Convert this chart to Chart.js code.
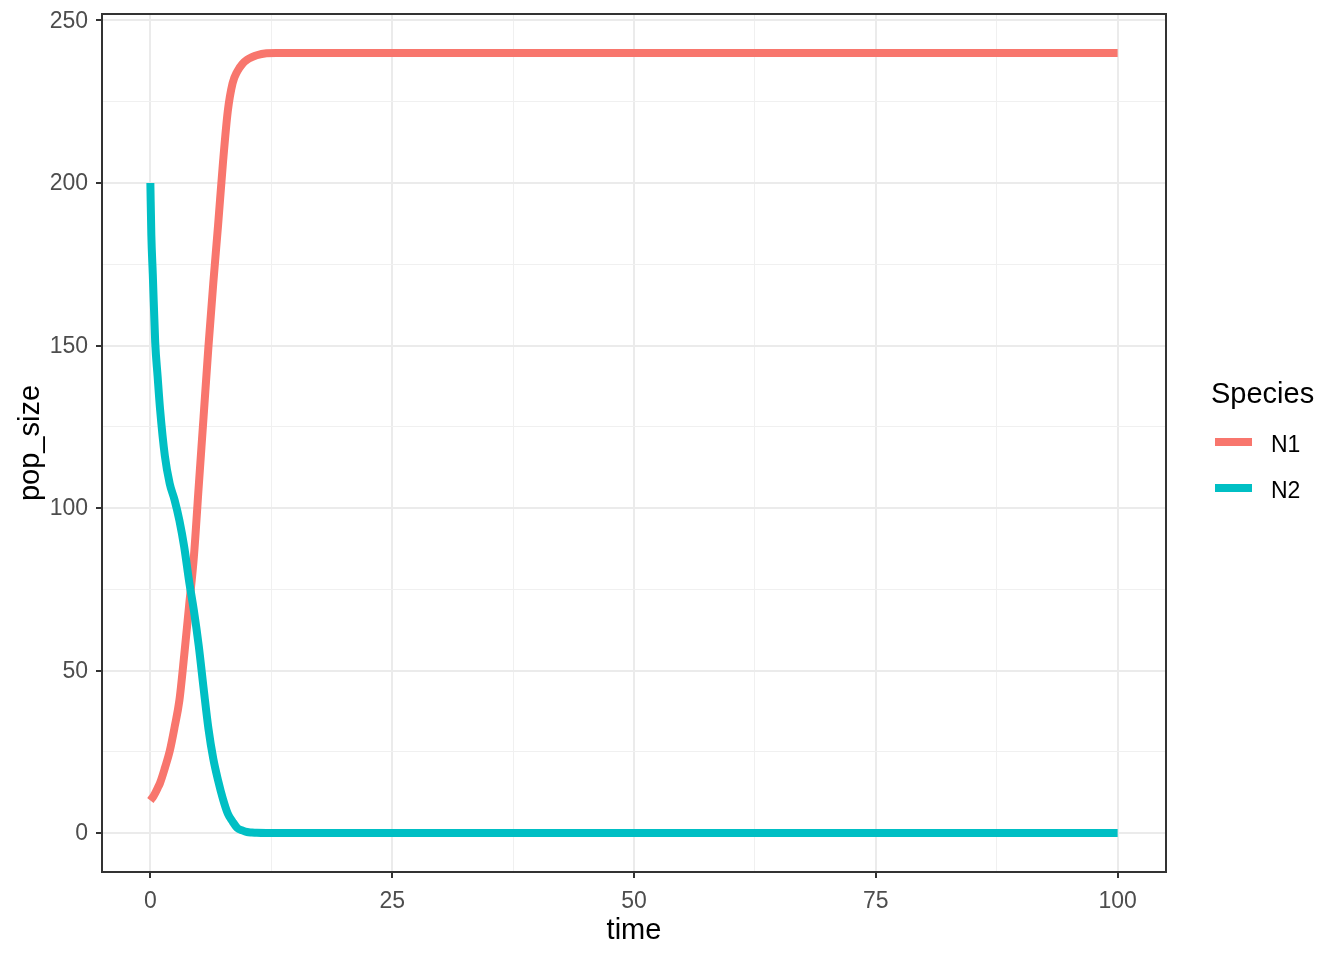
<!DOCTYPE html>
<html>
<head>
<meta charset="utf-8">
<title>pop_size over time</title>
<script src="https://cdn.jsdelivr.net/npm/chart.js@4.4.1/dist/chart.umd.min.js"></script>
<style>
  html, body { margin: 0; padding: 0; background: #ffffff; }
  #wrap { width: 1344px; height: 960px; }
</style>
</head>
<body>
<div id="wrap"><canvas id="chart" width="1344" height="960"></canvas></div>
<script>
// values
const time = [0, 0.1, 0.25, 0.5, 0.75, 1, 1.5, 2, 2.5, 3, 3.5, 4, 4.5, 5, 5.5, 6, 6.5, 7, 7.5, 8, 8.5, 9, 9.5, 10, 10.5, 11, 12, 13, 15, 100];
const n1 = [10, 10.4, 11, 12.3, 13.8, 15.4, 20, 25.2, 32.5, 40.8, 54.7, 69.8, 85, 106.7, 128, 149.5, 169, 187, 206, 222, 230.7, 234.4, 236.6, 237.9, 238.7, 239.3, 239.9, 240, 240, 240];
const n2 = [200, 184, 172, 151, 140.5, 130.5, 116, 107.5, 102.5, 96.2, 88, 77.6, 68.4, 57.6, 44.6, 32.2, 22.9, 16.2, 10.5, 6, 3.5, 1.5, 0.8, 0.3, 0.15, 0.05, 0, 0, 0, 0];
const seriesNames = ['N1', 'N2'];
const seriesColors = ['#F8766D', '#00BFC4'];

const xTicks = [0, 25, 50, 75, 100];
const xMinor = [12.5, 37.5, 62.5, 87.5];
const yTicks = [0, 50, 100, 150, 200, 250];
const yMinor = [25, 75, 125, 175, 225];

const FONT = "'Liberation Sans', Arial, sans-serif";
const GRID = '#EBEBEB';
const INK = '#333333';
const LINE_W = 8;

const toPoints = vals => time.map((t, i) => ({ x: t, y: vals[i] }));

function gridStyle(major) {
  return {
    color: ctx => major.includes(ctx.tick.value) ? GRID : '#F0F0F0',
    lineWidth: ctx => major.includes(ctx.tick.value) ? 2 : 1,
    tickColor: ctx => major.includes(ctx.tick.value) ? INK : 'rgba(0,0,0,0)',
    tickWidth: ctx => major.includes(ctx.tick.value) ? 2 : 0,
    tickLength: 6
  };
}

// panel border on all four sides
const panelBorder = {
  id: 'panelBorder',
  afterDatasetsDraw(chart) {
    const { ctx, chartArea: a } = chart;
    ctx.save();
    ctx.strokeStyle = INK;
    ctx.lineWidth = 2;
    ctx.strokeRect(a.left, a.top, a.right - a.left, a.bottom - a.top);
    ctx.restore();
  }
};

// ggplot-style legend on the right
const sideLegend = {
  id: 'sideLegend',
  afterDraw(chart) {
    const { ctx } = chart;
    ctx.save();
    ctx.fillStyle = '#000000';
    ctx.textBaseline = 'alphabetic';
    ctx.font = `29px ${FONT}`;
    ctx.fillText('Species', 1211, 403);
    ctx.font = `23px ${FONT}`;
    seriesNames.forEach((name, i) => {
      const cy = 442 + i * 46;
      ctx.strokeStyle = seriesColors[i];
      ctx.lineWidth = LINE_W;
      ctx.beginPath();
      ctx.moveTo(1215, cy);
      ctx.lineTo(1252, cy);
      ctx.stroke();
      ctx.fillStyle = '#000000';
      ctx.fillText(name, 1271, cy + 10);
    });
    ctx.restore();
  }
};

new Chart(document.getElementById('chart'), {
  type: 'line',
  data: {
    datasets: [
      { label: seriesNames[0], data: toPoints(n1), borderColor: seriesColors[0], order: 1 },
      { label: seriesNames[1], data: toPoints(n2), borderColor: seriesColors[1], order: 0 }
    ]
  },
  options: {
    responsive: false,
    animation: false,
    layout: { padding: { left: 0, right: 178, top: 14, bottom: 0 } },
    elements: {
      point: { radius: 0 },
      line: { borderWidth: LINE_W, cubicInterpolationMode: 'monotone', borderJoinStyle: 'round' }
    },
    plugins: { legend: { display: false }, tooltip: { enabled: false } },
    scales: {
      x: {
        type: 'linear',
        min: -5,
        max: 105,
        afterBuildTicks: s => { s.ticks = [...xTicks, ...xMinor].sort((a, b) => a - b).map(v => ({ value: v })); },
        afterFit: s => { s.height = 88; s.paddingLeft = 0; s.paddingRight = 0; },
        grid: gridStyle(xTicks),
        border: { display: false },
        ticks: {
          autoSkip: false,
          maxRotation: 0,
          padding: 10,
          color: '#4D4D4D',
          font: { family: FONT, size: 23 },
          callback: v => xTicks.includes(v) ? String(v) : ''
        },
        title: { display: true, text: 'time', color: '#000000', font: { family: FONT, size: 29 }, padding: { top: 0, bottom: 12 } }
      },
      y: {
        type: 'linear',
        min: -12,
        max: 252,
        afterBuildTicks: s => { s.ticks = [...yTicks, ...yMinor].sort((a, b) => a - b).map(v => ({ value: v })); },
        afterFit: s => { s.width = 102; s.paddingTop = 0; s.paddingBottom = 0; },
        grid: gridStyle(yTicks),
        border: { display: false },
        ticks: {
          autoSkip: false,
          padding: 8,
          labelOffset: 1,
          color: '#4D4D4D',
          font: { family: FONT, size: 23 },
          callback: v => yTicks.includes(v) ? String(v) : ''
        },
        title: { display: true, text: 'pop_size', color: '#000000', font: { family: FONT, size: 29 }, padding: { top: 14, bottom: 0 } }
      }
    }
  },
  plugins: [panelBorder, sideLegend]
});
</script>
</body>
</html>
